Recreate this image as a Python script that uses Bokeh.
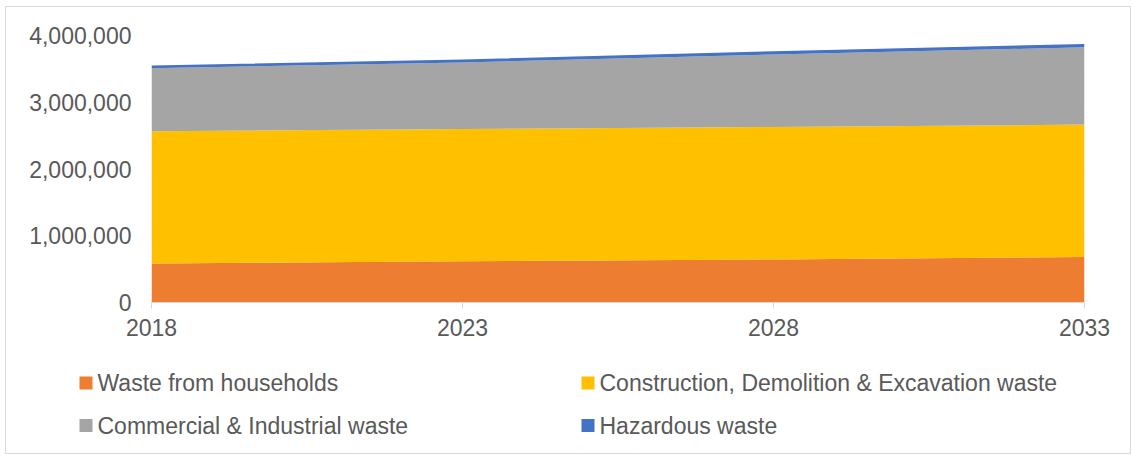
from bokeh.plotting import figure
from bokeh.layouts import column
from bokeh.models import (ColumnDataSource, FixedTicker, NumeralTickFormatter, Range1d)
from bokeh.core.properties import value
from bokeh.embed import file_html
from bokeh.resources import INLINE

years = [2018, 2023, 2028, 2033]
households = [584000, 618000, 644000, 683000]
construction = [1981000, 1981000, 1985000, 1982000]
commercial = [945000, 996000, 1086000, 1158000]
hazardous = [42000, 46000, 48000, 50000]

names = ["households", "construction", "commercial", "hazardous"]
labels = ["Waste from households", "Construction, Demolition & Excavation waste",
          "Commercial & Industrial waste", "Hazardous waste"]
colors = ["#ED7D31", "#FFC000", "#A5A5A5", "#4472C4"]
y_ticks = [0, 1000000, 2000000, 3000000, 4000000]

FONT = "Liberation Sans"
TXT = "#595959"
GRID = "#D9D9D9"

source = ColumnDataSource(dict(year=years, households=households,
                               construction=construction,
                               commercial=commercial, hazardous=hazardous))

# ---- main chart ----
p = figure(width=1124, height=340, output_backend="svg", toolbar_location=None,
           x_range=Range1d(2018, 2033), y_range=Range1d(0, 4000000))
p.frame_align = False
p.min_border_left = 145
p.min_border_right = 46
p.min_border_top = 28
p.min_border_bottom = 45
p.outline_line_color = None
p.background_fill_color = "white"
p.border_fill_color = "white"

renderers = p.varea_stack(names, x="year", source=source, color=colors)

p.xgrid.grid_line_color = None
p.ygrid.grid_line_color = GRID
p.ygrid.ticker = FixedTicker(ticks=y_ticks)

p.yaxis.ticker = FixedTicker(ticks=y_ticks)
p.yaxis.formatter = NumeralTickFormatter(format="0,0")
p.yaxis.axis_line_color = None
p.yaxis.major_tick_line_color = None
p.yaxis.minor_tick_line_color = None
p.yaxis.major_label_standoff = 14

p.xaxis.ticker = FixedTicker(ticks=years)
p.xaxis.axis_line_color = GRID
p.xaxis.major_tick_line_color = GRID
p.xaxis.major_tick_out = 6
p.xaxis.major_tick_in = 0
p.xaxis.minor_tick_line_color = None
p.xaxis.major_label_standoff = 10

for ax in (p.xaxis[0], p.yaxis[0]):
    ax.major_label_text_font = FONT
    ax.major_label_text_font_size = "23px"
    ax.major_label_text_color = TXT

# ---- legend strip (pixel-unit canvas) ----
LW, LH = 1124, 106
p2 = figure(width=LW, height=LH, output_backend="svg", toolbar_location=None,
            x_range=Range1d(0, LW), y_range=Range1d(0, LH))
p2.frame_align = False
p2.min_border = 0
p2.min_border_left = 0
p2.min_border_right = 0
p2.min_border_top = 0
p2.min_border_bottom = 0
p2.axis.visible = False
p2.grid.visible = False
p2.outline_line_color = None
p2.background_fill_color = "white"
p2.border_fill_color = "white"

# legend layout: two columns, two rows (row-wise order of series)
swatch_x = [79.5, 581.5, 79.5, 581.5]
label_x = [91, 593, 91, 593]
row_y = [70.5, 70.5, 28, 28]

leg = ColumnDataSource(dict(sx=swatch_x, lx=label_x, y=row_y, label=labels, color=colors))
p2.rect(x="sx", y="y", width=13, height=13, width_units="screen", height_units="screen",
        fill_color="color", line_color=None, source=leg)
p2.text(x="lx", y="y", text="label", source=leg, text_font=value(FONT),
        text_font_size="23px", text_color=TXT, text_baseline="middle", text_align="left")

layout = column(p, p2, spacing=0)
layout.styles = {"border": "1px solid #D9D9D9", "margin-left": "5px", "margin-top": "6px"}

open("out.html", "w").write(file_html(layout, INLINE))
